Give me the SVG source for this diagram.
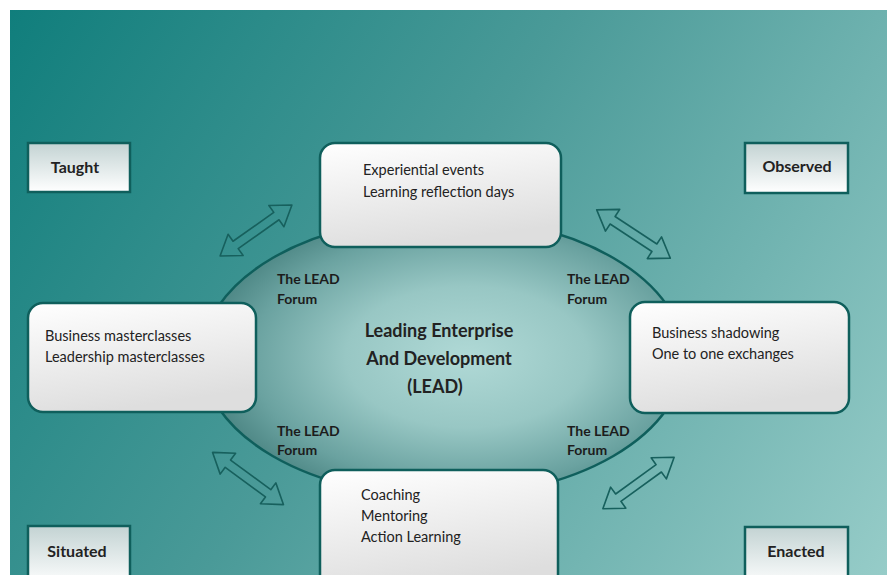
<svg xmlns="http://www.w3.org/2000/svg" width="887" height="575" viewBox="0 0 887 575">
  <defs>
    <linearGradient id="bg" gradientUnits="userSpaceOnUse" x1="10" y1="10" x2="886" y2="575">
      <stop offset="0" stop-color="#107e7c"/>
      <stop offset="0.45" stop-color="#4a9a98"/>
      <stop offset="1" stop-color="#96ccc8"/>
    </linearGradient>
    <radialGradient id="hub" cx="0.55" cy="0.5" r="0.56">
      <stop offset="0" stop-color="#b0d9d6"/>
      <stop offset="0.45" stop-color="#98c7c4"/>
      <stop offset="0.8" stop-color="#6aa2a0"/>
      <stop offset="1" stop-color="#4a8482"/>
    </radialGradient>
    <linearGradient id="card" x1="0" y1="0" x2="0.3" y2="1">
      <stop offset="0" stop-color="#ffffff"/>
      <stop offset="1" stop-color="#dedede"/>
    </linearGradient>
    <linearGradient id="tag" x1="0" y1="0" x2="0" y2="1">
      <stop offset="0" stop-color="#c3d3d3"/>
      <stop offset="1" stop-color="#ffffff"/>
    </linearGradient>
    <!-- hollow double-headed arrow, centred on the origin along x -->
    <polygon id="dblArrow" points="-44,0 -25,-13 -25,-4.5 25,-4.5 25,-13 44,0 25,13 25,4.5 -25,4.5 -25,13"/>
  </defs>
  <style>
    .card { fill: url(#card); stroke: #0f5f5c; stroke-width: 2.5; }
    .tag { fill: url(#tag); stroke: #0f5f5c; stroke-width: 2.5; }
    .arrow { fill: none; stroke: #17605d; stroke-width: 1.6; stroke-linejoin: round; }
    text { font-family: Lato, "Open Sans", "Liberation Sans", sans-serif; fill: #222; }
    .body { font-size: 14.5px; }
    .tagtxt { font-size: 16px; font-weight: bold; text-anchor: middle; }
    .forum { font-size: 14px; font-weight: bold; fill: #1c1c1c; }
    .hubtxt { font-size: 18px; font-weight: bold; text-anchor: middle; }
  </style>

  <rect x="0" y="0" width="887" height="575" fill="#ffffff"/>
  <rect x="10" y="10" width="877" height="565" fill="url(#bg)"/>

  <!-- central hub -->
  <g id="hub-ellipse">
    <ellipse cx="443" cy="357" rx="241" ry="140" fill="url(#hub)" stroke="#0f5f5c" stroke-width="2.5"/>
    <text class="hubtxt" x="439" y="337">Leading Enterprise</text>
    <text class="hubtxt" x="439" y="365">And Development</text>
    <text class="hubtxt" x="435" y="393">(LEAD)</text>
  </g>

  <g id="forum-labels">
    <text class="forum" x="277" y="284">The LEAD</text>
    <text class="forum" x="277" y="304">Forum</text>
    <text class="forum" x="567" y="284">The LEAD</text>
    <text class="forum" x="567" y="304">Forum</text>
    <text class="forum" x="277" y="436">The LEAD</text>
    <text class="forum" x="277" y="455">Forum</text>
    <text class="forum" x="567" y="436">The LEAD</text>
    <text class="forum" x="567" y="455">Forum</text>
  </g>

  <!-- connectors -->
  <g id="connectors">
    <use href="#dblArrow" class="arrow" transform="translate(256,230.5) rotate(-35.3)"/>
    <use href="#dblArrow" class="arrow" transform="translate(633.5,234) rotate(33.3)"/>
    <use href="#dblArrow" class="arrow" transform="translate(248,478.5) rotate(36.4)"/>
    <use href="#dblArrow" class="arrow" transform="translate(638.5,483) rotate(-35.9)"/>
  </g>

  <!-- activity cards -->
  <g id="card-top">
    <rect class="card" x="320" y="143" width="241" height="104" rx="15"/>
    <text class="body" x="363" y="175">Experiential events</text>
    <text class="body" x="363" y="197">Learning reflection days</text>
  </g>
  <g id="card-left">
    <rect class="card" x="28" y="303" width="228" height="109" rx="15"/>
    <text class="body" x="45" y="341">Business masterclasses</text>
    <text class="body" x="45" y="362">Leadership masterclasses</text>
  </g>
  <g id="card-right">
    <rect class="card" x="630" y="302" width="219" height="111" rx="15"/>
    <text class="body" x="652" y="338">Business shadowing</text>
    <text class="body" x="652" y="359">One to one exchanges</text>
  </g>
  <g id="card-bottom">
    <rect class="card" x="320" y="470" width="238" height="120" rx="15"/>
    <text class="body" x="361" y="500">Coaching</text>
    <text class="body" x="361" y="521">Mentoring</text>
    <text class="body" x="361" y="542">Action Learning</text>
  </g>

  <!-- corner labels -->
  <g id="tag-taught">
    <rect class="tag" x="28" y="143" width="102" height="49"/>
    <text class="tagtxt" x="75" y="173">Taught</text>
  </g>
  <g id="tag-observed">
    <rect class="tag" x="745" y="143" width="103" height="50"/>
    <text class="tagtxt" x="797" y="172">Observed</text>
  </g>
  <g id="tag-situated">
    <rect class="tag" x="28" y="526" width="102" height="60"/>
    <text class="tagtxt" x="77" y="557">Situated</text>
  </g>
  <g id="tag-enacted">
    <rect class="tag" x="745" y="527" width="103" height="60"/>
    <text class="tagtxt" x="796" y="557">Enacted</text>
  </g>
</svg>
